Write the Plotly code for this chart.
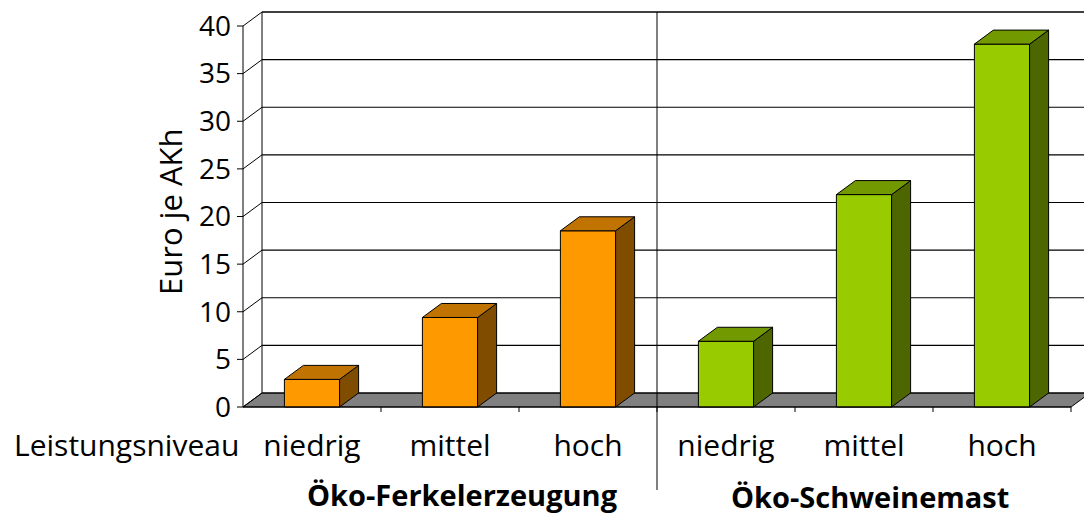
import plotly.graph_objects as go

# ---------------- data ----------------
levels = ["niedrig", "mittel", "hoch"]
groups = ["Öko-Ferkelerzeugung", "Öko-Schweinemast"]
ferkel_values = [2.9, 9.4, 18.5]
mast_values = [6.9, 22.3, 38.1]
y_ticks = [0, 5, 10, 15, 20, 25, 30, 35, 40]
y_title = "Euro je AKh"
x_title = "Leistungsniveau"

# ---------------- frame geometry ----------------
W, H = 1084, 517
L_PX, T_PX, B_PX = 236, 10, 413   # plot-area edges (pixels)
Y0_PX = 407                       # pixel row of value 0 on the front plane
PX_X = 138.0                      # pixels per category
PX_Y = 9.525                      # pixels per value unit
FRONT_LEFT = -0.5
xmin = FRONT_LEFT - (243 - L_PX) / PX_X
xmax = xmin + (W - L_PX) / PX_X
ymin = -(B_PX - Y0_PX) / PX_Y
ymax = (Y0_PX - T_PX) / PX_Y
DX = 19 / PX_X                    # depth offset (category units)
DY = 14 / PX_Y                    # depth offset (value units)
BW = 0.4                          # bar width
n_cat = len(levels) * len(groups)
FRONT_RIGHT = n_cat - 0.5
YTOP = y_ticks[-1]

FONT = "Open Sans"
FS_NUM = 28
FS_TXT = 30
FS_BOLD = 29
FS_YT = 31


def px_to_paper_x(px):
    return (px - L_PX) / (W - L_PX)


def px_to_paper_y(py):
    return (B_PX - py) / (B_PX - T_PX)


series = [
    dict(x=[0, 1, 2], y=ferkel_values, front="#FF9900", top="#C07300", side="#804D00"),
    dict(x=[3, 4, 5], y=mast_values, front="#99CC00", top="#739900", side="#4D6600"),
]

fig = go.Figure()

# front faces (real bars)
for s in series:
    fig.add_trace(go.Bar(
        x=s["x"], y=s["y"], width=BW, marker=dict(color=s["front"], line=dict(color="black", width=1)),
        hoverinfo="skip", showlegend=False,
    ))

# top and side faces derived from the values
for s in series:
    tx, ty, sx, sy = [], [], [], []
    for xc, v in zip(s["x"], s["y"]):
        l, r = xc - BW / 2, xc + BW / 2
        tx += [l, r, r + DX, l + DX, l, None]
        ty += [v, v, v + DY, v + DY, v, None]
        sx += [r, r + DX, r + DX, r, r, None]
        sy += [0, DY, v + DY, v, 0, None]
    fig.add_trace(go.Scatter(x=sx, y=sy, mode="lines", fill="toself", fillcolor=s["side"],
                             line=dict(color="black", width=1), hoverinfo="skip", showlegend=False))
    fig.add_trace(go.Scatter(x=tx, y=ty, mode="lines", fill="toself", fillcolor=s["top"],
                             line=dict(color="black", width=1), hoverinfo="skip", showlegend=False))

shapes = []
line_k = dict(color="black", width=1)
# floor
shapes.append(dict(type="path", xref="x", yref="y", layer="below",
                   path=f"M{FRONT_LEFT},0 L{FRONT_RIGHT},0 L{FRONT_RIGHT + DX},{DY} L{FRONT_LEFT + DX},{DY} Z",
                   fillcolor="#808080", line=line_k))
# back-wall gridlines, side-wall diagonals, y ticks
for v in y_ticks:
    shapes.append(dict(type="line", xref="x", yref="y", layer="below",
                       x0=FRONT_LEFT + DX, x1=xmax + 1, y0=v + DY, y1=v + DY,
                       line=dict(color="black", width=1.4 if v == YTOP else 1.1)))
    shapes.append(dict(type="line", xref="x", yref="y", layer="below",
                       x0=FRONT_LEFT, x1=FRONT_LEFT + DX, y0=v, y1=v + DY, line=line_k))
    shapes.append(dict(type="line", xref="x", yref="y", layer="below",
                       x0=FRONT_LEFT - 6 / PX_X, x1=FRONT_LEFT, y0=v, y1=v, line=line_k))
# back wall left edge, front value axis, front category axis
shapes.append(dict(type="line", xref="x", yref="y", layer="below",
                   x0=FRONT_LEFT + DX, x1=FRONT_LEFT + DX, y0=DY, y1=YTOP + DY, line=line_k))
shapes.append(dict(type="line", xref="x", yref="y", layer="below",
                   x0=FRONT_LEFT, x1=FRONT_LEFT, y0=0, y1=YTOP, line=line_k))
shapes.append(dict(type="line", xref="x", yref="y", layer="above",
                   x0=FRONT_LEFT, x1=FRONT_RIGHT, y0=0, y1=0, line=line_k))
# category boundary ticks
for i in range(n_cat):
    b = i + 0.5
    shapes.append(dict(type="line", xref="x", yref="y", layer="above",
                       x0=b, x1=b, y0=0, y1=-5 / PX_Y, line=line_k))
# group separator
sep = len(levels) - 0.5
sep_px = (sep - xmin) / (xmax - xmin)
shapes.append(dict(type="line", xref="paper", yref="paper", x0=sep_px, x1=sep_px,
                   y0=px_to_paper_y(490), y1=px_to_paper_y(12), line=line_k))

annotations = [
    dict(text=x_title, xref="paper", yref="paper", x=px_to_paper_x(241), y=px_to_paper_y(444),
         xanchor="right", yanchor="middle", showarrow=False, font=dict(family=FONT, size=FS_TXT, color="black")),
    dict(text=y_title, xref="paper", yref="paper", x=px_to_paper_x(170), y=px_to_paper_y(212),
         xanchor="center", yanchor="middle", textangle=-90, showarrow=False,
         font=dict(family=FONT, size=FS_YT, color="black")),
    dict(text="<b>" + groups[0] + "</b>", xref="paper", yref="paper", x=px_to_paper_x(462), y=px_to_paper_y(495),
         xanchor="center", yanchor="middle", showarrow=False, font=dict(family=FONT, size=FS_BOLD, color="black")),
    dict(text="<b>" + groups[1] + "</b>", xref="paper", yref="paper", x=px_to_paper_x(870), y=px_to_paper_y(496),
         xanchor="center", yanchor="middle", showarrow=False, font=dict(family=FONT, size=FS_BOLD, color="black")),
]

fig.update_layout(
    width=W, height=H, autosize=False,
    margin=dict(l=L_PX, r=0, t=T_PX, b=H - B_PX, pad=0),
    paper_bgcolor="white", plot_bgcolor="white",
    barmode="overlay", showlegend=False,
    shapes=shapes, annotations=annotations,
    font=dict(family=FONT, size=FS_TXT, color="black"),
    xaxis=dict(range=[xmin, xmax], tickmode="array", tickvals=list(range(n_cat)),
               ticktext=levels * len(groups), ticks="", showgrid=False, zeroline=False,
               showline=False, automargin=False, fixedrange=True, ticklabelstandoff=12,
               tickfont=dict(family=FONT, size=FS_TXT, color="black")),
    yaxis=dict(range=[ymin, ymax], tickmode="array", tickvals=y_ticks, ticks="",
               showgrid=False, zeroline=False, showline=False, automargin=False, fixedrange=True,
               ticklabelstandoff=4,
               tickfont=dict(family=FONT, size=FS_NUM, color="black")),
)

fig.write_html("out.html", config={"displayModeBar": False},
               post_script="document.body.style.margin='0';document.body.style.overflow='hidden';")
